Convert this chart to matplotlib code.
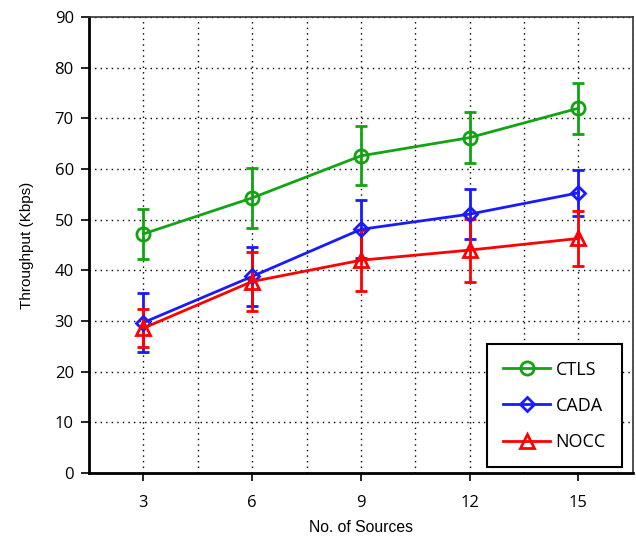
import matplotlib
matplotlib.use("Agg")
import matplotlib.pyplot as plt
from matplotlib.ticker import MultipleLocator
from matplotlib.lines import Line2D

sources = [3, 6, 9, 12, 15]
ctls = [47.2, 54.3, 62.6, 66.2, 72.0]
ctls_err = [5.0, 5.9, 5.8, 5.1, 5.0]
cada = [29.7, 38.8, 48.1, 51.1, 55.3]
cada_err = [5.9, 5.9, 5.7, 5.0, 4.6]
nocc = [28.6, 37.8, 42.0, 44.0, 46.3]
nocc_err = [3.8, 5.8, 6.0, 6.2, 5.5]
labels = ["CTLS", "CADA", "NOCC"]
yticks = list(range(0, 91, 10))

fig = plt.figure(figsize=(6.36, 5.39), dpi=100)
ax = fig.add_axes([0.140, 0.1224, 0.855, 0.846])

series = [
    (ctls, ctls_err, "#13a313", "o", 9.5),
    (cada, cada_err, "#1a1aff", "D", 7.5),
    (nocc, nocc_err, "#ff0000", "^", 9.5),
]
handles = []
for (vals, errs, col, mk, ms), lab in zip(series, labels):
    ax.errorbar(sources, vals, yerr=errs, color=col, marker=mk, ms=ms,
                mfc="none", mec=col, mew=2, lw=2, elinewidth=2,
                capsize=4.5, capthick=2)
    handles.append(Line2D([], [], color=col, marker=mk, ms=ms, mfc="none",
                          mec=col, mew=2, lw=2, label=lab))

ax.set_xlim(1.5, 16.5)
ax.set_ylim(0, 90)
ax.set_xticks(sources)
ax.xaxis.set_minor_locator(MultipleLocator(1.5))
ax.set_yticks(yticks)
ax.grid(True, which="both", axis="x", color="black", linestyle=(0, (1, 3)), lw=1)
ax.grid(True, which="major", axis="y", color="black", linestyle=(0, (1, 3)), lw=1)
ax.tick_params(axis="x", which="minor", length=0)
ax.tick_params(axis="both", which="major", direction="out", length=6, width=1.2,
               labelsize=12, colors="black")
ax.tick_params(axis="x", pad=10)
ax.tick_params(axis="y", pad=5)
for lab in ax.get_xticklabels() + ax.get_yticklabels():
    lab.set_fontfamily("Open Sans")

for s in ["left", "bottom"]:
    ax.spines[s].set_linewidth(2)
    ax.spines[s].set_color("black")
for s in ["top", "right"]:
    ax.spines[s].set_linewidth(1.2)
    ax.spines[s].set_color("#333333")

ax.set_xlabel("No. of Sources", fontsize=11.3, family="Liberation Sans", labelpad=6)
ax.set_ylabel("Throughput (Kbps)", fontsize=11, family="Liberation Sans", labelpad=15)

leg = ax.legend(handles=handles, loc="lower right", bbox_to_anchor=(0.980, 0.013),
                fancybox=False, edgecolor="black", framealpha=1,
                prop={"family": "Open Sans", "size": 13},
                handlelength=2.6, borderpad=0.9, labelspacing=1.0, handletextpad=0.3,
                borderaxespad=0)
leg.get_frame().set_linewidth(1.5)

fig.savefig("out.png", dpi=100)
